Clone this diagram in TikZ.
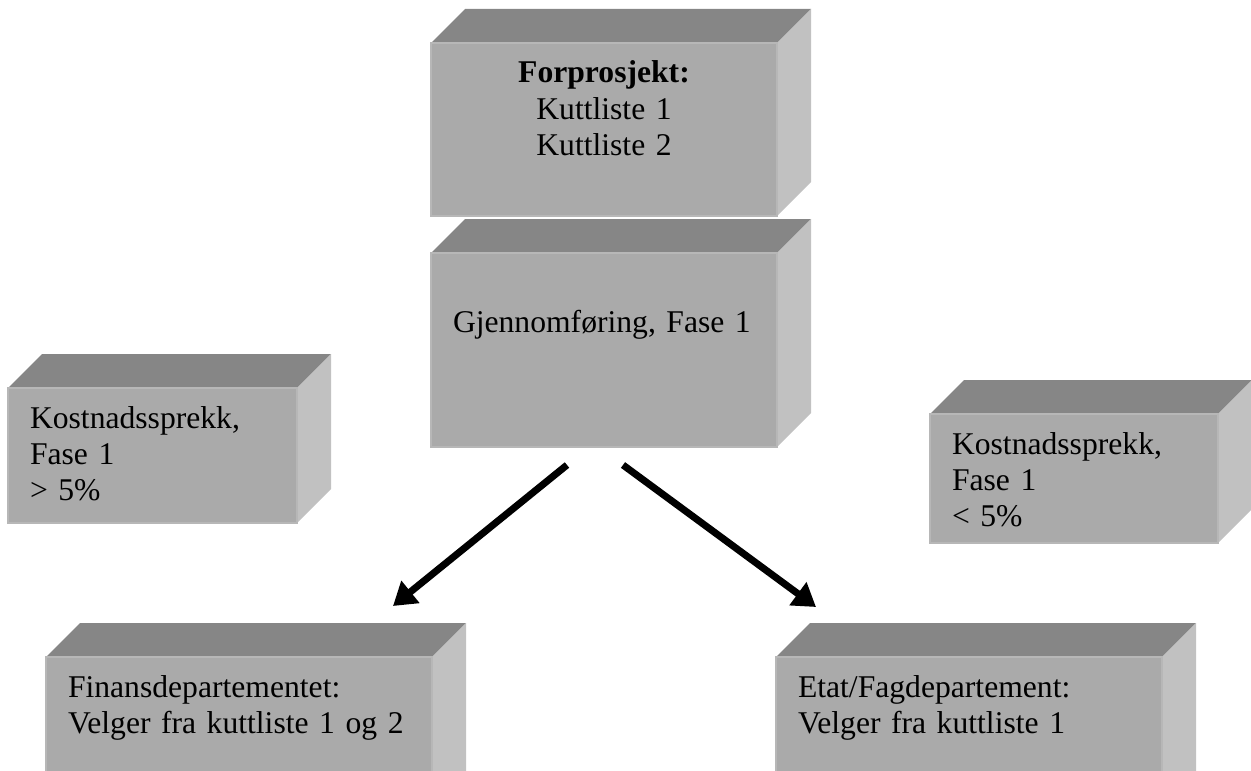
\documentclass[tikz,border=0pt]{standalone}
\usepackage{fontspec}
\setmainfont{Liberation Serif}
\usepackage{xcolor}
\usetikzlibrary{arrows.meta,positioning,backgrounds}
\definecolor{frontgray}{RGB}{170,170,170}
\definecolor{topgray}{RGB}{134,134,134}
\definecolor{sidegray}{RGB}{193,193,193}
\tikzset{
  cube/.style={rectangle, fill=frontgray, draw=frontgray!85!white, line width=0.6pt, outer sep=0pt, inner xsep=0.44cm, inner ysep=0.3cm, text height=0.5cm, align=left, font=\fontsize{18}{20.7}\selectfont}, % front face of a block
  arrow/.style={-{Triangle[length=0.45cm,width=0.55cm]}, line width=4pt}
}
\begin{document}
\begin{tikzpicture}[>=Stealth, thick]
    \useasboundingbox (0,0) rectangle (25.02,15.4);

    % Nodes
    \node [cube, anchor=north west, text width=6.04cm, text depth=2.36cm, align=center] (fore) at (8.62,14.54) {\textbf{Forprosjekt:}\\Kuttliste 1\\Kuttliste 2};
    \node [cube, below=0.74cm of fore, text width=6.04cm, text height=1.28cm, text depth=2.0cm] (gjen) {Gjennomføring, Fase 1};
    \node [cube, anchor=north west, text width=4.90cm, text depth=1.60cm] (kostL) at (0.16,7.64) {Kostnadssprekk,\\Fase 1\\> 5\%};
    \node [cube, anchor=north west, text width=4.88cm, text depth=1.48cm] (kostR) at (18.60,7.12) {Kostnadssprekk,\\Fase 1\\< 5\%};
    \node [cube, anchor=north west, text width=6.84cm, text depth=1.90cm] (finL) at (0.92,2.26) {Finansdepartementet:\\Velger fra kuttliste 1 og 2};
    \node [cube, anchor=north west, text width=6.84cm, text depth=1.90cm] (etat) at (15.52,2.26) {Etat/Fagdepartement:\\Velger fra kuttliste 1};

    % Edges
    \draw[arrow] ([shift={(-0.74,-0.36)}]gjen.south) -- ([shift={(-0.78,1.02)}]finL.north east);
    \draw[arrow] ([shift={(0.38,-0.36)}]gjen.south) -- ([shift={(0.80,1.00)}]etat.north west);

    % Depth faces
    \begin{scope}[on background layer]
      \foreach \n in {fore,gjen,kostL,kostR,finL,etat} {
        \fill[topgray] (\n.north west) -- ++(0.68,0.68) -- ([shift={(0.68,0.68)}]\n.north east) -- (\n.north east) -- cycle;
        \fill[sidegray] (\n.north east) -- ++(0.68,0.68) -- ([shift={(0.68,0.68)}]\n.south east) -- (\n.south east) -- cycle;
      }
    \end{scope}

\end{tikzpicture}
\end{document}
